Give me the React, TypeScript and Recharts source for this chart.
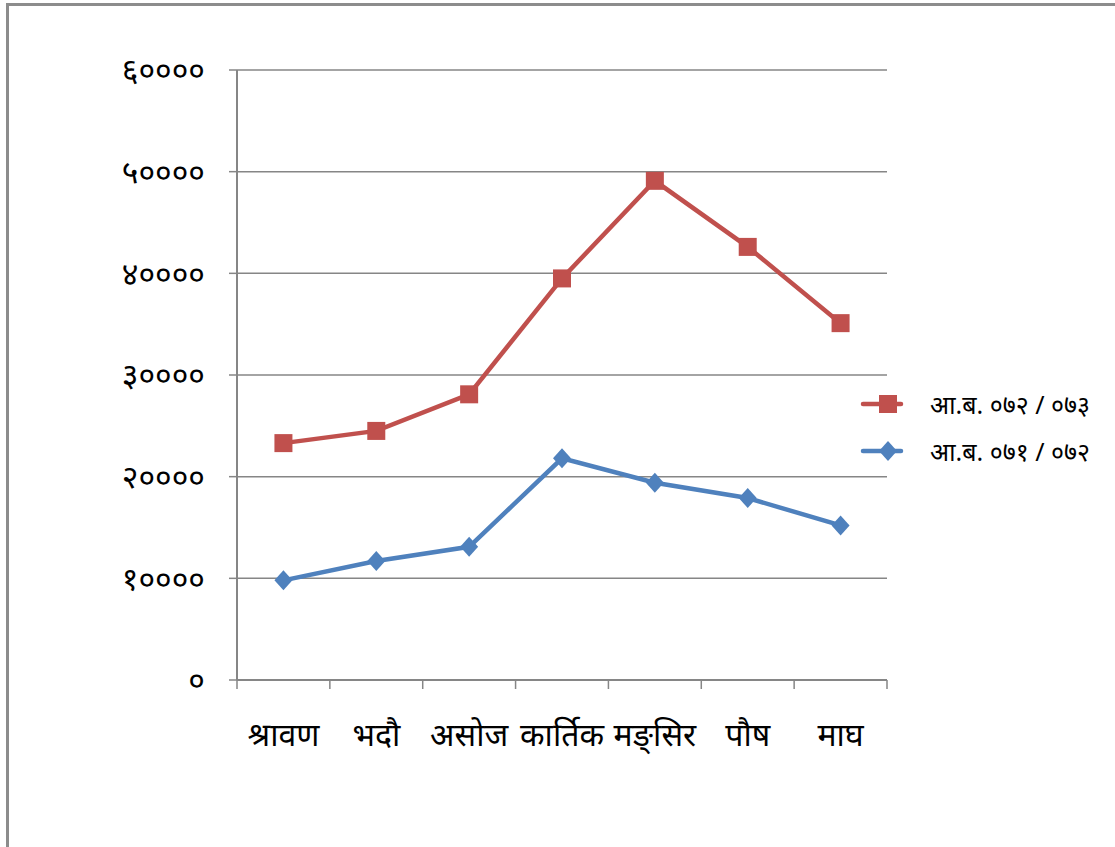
import { LineChart, Line, XAxis, YAxis, CartesianGrid } from 'recharts'

const months = ['श्रावण', 'भदौ', 'असोज', 'कार्तिक', 'मङ्सिर', 'पौष', 'माघ']
const fy7273 = [23300, 24500, 28100, 39500, 49100, 42600, 35100]
const fy7172 = [9800, 11700, 13100, 21800, 19400, 17900, 15200]
const yTicks = [0, 10000, 20000, 30000, 40000, 50000, 60000]
const seriesNames = ['आ.ब. ०७२ / ०७३', 'आ.ब. ०७१ / ०७२']

const RED = '#C0504D'
const BLUE = '#4F81BD'
const GRID = '#868686'
const FONT = '"Noto Sans", "DejaVu Sans", sans-serif'

const devDigits = '०१२३४५६७८९'
const toDev = (n: number) => String(n).replace(/\d/g, d => devDigits[Number(d)])

const data = months.map((m, i) => ({
  month: m,
  pos: i + 0.5,
  a: fy7273[i],
  b: fy7172[i],
}))

// boundary ticks (integers) get a tick mark, centre ticks (halves) get a label
const xTicks: number[] = []
for (let i = 0; i <= months.length; i++) {
  xTicks.push(i)
  if (i < months.length) xTicks.push(i + 0.5)
}

function XTick({ x, y, payload }: any) {
  const v = payload.value as number
  if (Number.isInteger(v)) {
    return <line x1={x} x2={x} y1={y} y2={y + 9} stroke={GRID} strokeWidth={1.5} />
  }
  return (
    <text x={x} y={y + 66} textAnchor="middle" fontSize={32} fill="#000" fontFamily={FONT}>
      {months[Math.floor(v)]}
    </text>
  )
}

function SquareDot({ cx, cy, index }: any) {
  return <rect key={`s${index}`} x={cx - 9} y={cy - 9} width={18} height={18} fill={RED} />
}

function DiamondDot({ cx, cy, index }: any) {
  return (
    <path
      key={`d${index}`}
      d={`M${cx},${cy - 10} L${cx + 9},${cy} L${cx},${cy + 10} L${cx - 9},${cy} Z`}
      fill={BLUE}
    />
  )
}

function LegendBox() {
  const items = [
    { name: seriesNames[0], color: RED, shape: 'square' },
    { name: seriesNames[1], color: BLUE, shape: 'diamond' },
  ]
  return (
    <div style={{ position: 'absolute', left: 860, top: 380, fontFamily: FONT, fontSize: 25, whiteSpace: 'pre' }}>
      {items.map(it => (
        <div key={it.name} style={{ display: 'flex', alignItems: 'center', height: 47 }}>
          <svg width={66} height={30}>
            <line x1={3} x2={41} y1={15} y2={15} stroke={it.color} strokeWidth={4.5} strokeLinecap="round" />
            {it.shape === 'square'
              ? <rect x={19} y={6} width={18} height={18} fill={it.color} />
              : <path d="M28,5 L37,15 L28,25 L19,15 Z" fill={it.color} />}
          </svg>
          <span style={{ marginLeft: 4 }}>{it.name}</span>
        </div>
      ))}
    </div>
  )
}

export default function App() {
  return (
    <div style={{ position: 'absolute', left: 0, top: 0, width: 1115, height: 847, overflow: 'hidden', background: '#fff' }}>
      <div
        style={{
          position: 'absolute', left: 6, top: 3, width: 1200, height: 1000,
          borderLeft: `3px solid #8c8c8c`, borderTop: `3px solid #8c8c8c`,
        }}
      />
      <LineChart
        width={1115}
        height={847}
        data={data}
        margin={{ top: 70, right: 228, bottom: 107, left: 0 }}
        style={{ position: 'absolute', left: 0, top: 0 }}
      >
        <CartesianGrid vertical={false} stroke={GRID} strokeWidth={1.5} />
        <XAxis
          dataKey="pos"
          type="number"
          domain={[0, months.length]}
          ticks={xTicks}
          interval={0}
          tick={<XTick />}
          tickLine={false}
          tickSize={0}
          tickMargin={0}
          height={60}
          axisLine={{ stroke: GRID, strokeWidth: 2 }}
        />
        <YAxis
          domain={[0, 60000]}
          ticks={yTicks}
          interval={0}
          width={237}
          tickSize={8}
          tickMargin={24}
          tickFormatter={toDev}
          tick={{ fontSize: 32, fill: '#000', fontFamily: FONT }}
          tickLine={{ stroke: GRID, strokeWidth: 1.5 }}
          axisLine={{ stroke: GRID, strokeWidth: 2 }}
        />
        <Line
          dataKey="b"
          name={seriesNames[1]}
          stroke={BLUE}
          strokeWidth={4.5}
          dot={<DiamondDot />}
          activeDot={false}
          isAnimationActive={false}
        />
        <Line
          dataKey="a"
          name={seriesNames[0]}
          stroke={RED}
          strokeWidth={4.5}
          dot={<SquareDot />}
          activeDot={false}
          isAnimationActive={false}
        />
      </LineChart>
      <LegendBox />
    </div>
  )
}
